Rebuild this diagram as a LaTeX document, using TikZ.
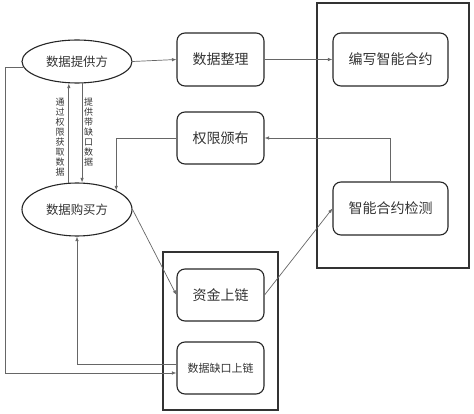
\documentclass[tikz,border=0pt]{standalone}
\usepackage{fontspec}
\setmainfont{Noto Sans CJK SC}
\usetikzlibrary{arrows.meta,shapes.geometric,calc}
\begin{document}
\begin{tikzpicture}[x=1pt,y=-1pt,
  box/.style={draw=black!85, line width=1.1pt, rounded corners=8pt, minimum width=87pt, minimum height=53pt, inner sep=0pt, font=\fontsize{14}{16}\selectfont, text=black!80},
  ell/.style={ellipse, draw=black!85, line width=1.1pt, minimum width=110pt, inner sep=0pt, font=\fontsize{12.4}{14}\selectfont, text=black!80},
  conn/.style={draw=black!60, line width=0.7pt, -{Latex[length=4.5pt,width=3.5pt]}},
  plain/.style={draw=black!60, line width=0.7pt},
  frame/.style={draw=black!80, line width=1.2pt},
  vlab/.style={align=center, inner sep=0pt, font=\fontsize{9}{10}\selectfont, text=black!80}]
\useasboundingbox (0,0) rectangle (474,414);
% containers
\draw[frame] (317,3) rectangle (469,268);
\draw[frame] (163,252) rectangle (278,410);
% nodes
\node[ell, minimum height=43pt] (prov) at (77,61.5) {数据提供方};
\node[ell, minimum height=53pt] (buy) at (77,209.5) {数据购买方};
\node[box] (zl) at (220.5,59.5) {数据整理};
\node[box, minimum width=115pt] (bx) at (390.5,59.5) {编写智能合约};
\node[box, minimum height=52pt] (qx) at (220.5,138) {权限颁布};
\node[box, minimum width=115pt] (jc) at (390.5,208.5) {智能合约检测};
\node[box, minimum height=52pt] (zj) at (220.5,295) {资金上链};
\node[box, minimum height=52pt, font=\fontsize{11}{13}\selectfont] (qk) at (220.5,368) {数据缺口上链};
% labels
\node[vlab] (l1) at (60,137) {通\\过\\权\\限\\获\\取\\数\\据};
\node[vlab] (l2) at (88.5,132) {提\\供\\带\\缺\\口\\数\\据};
% connectors
\draw[conn] (prov.east) -- (zl.west);
\draw[conn] (zl.east) -- (bx.west);
\draw[conn] (jc.north) |- (qx.east);
\draw[conn] (qx.west) -| (buy.26);
\draw[conn] (buy.107) -- (buy.107 |- prov.south);
\draw[conn] (prov.283) -- (prov.283 |- buy.north);
\draw[conn] (buy.east) -- (zj.west);
\draw[conn] (zj.east) -- (jc.west);
\draw[conn] ($(qk.west)+(0,-4)$) -| (buy.south);
\draw[conn] (prov.186) -- ++(-18,0) |- ($(qk.west)+(0,5)$);
\end{tikzpicture}
\end{document}
